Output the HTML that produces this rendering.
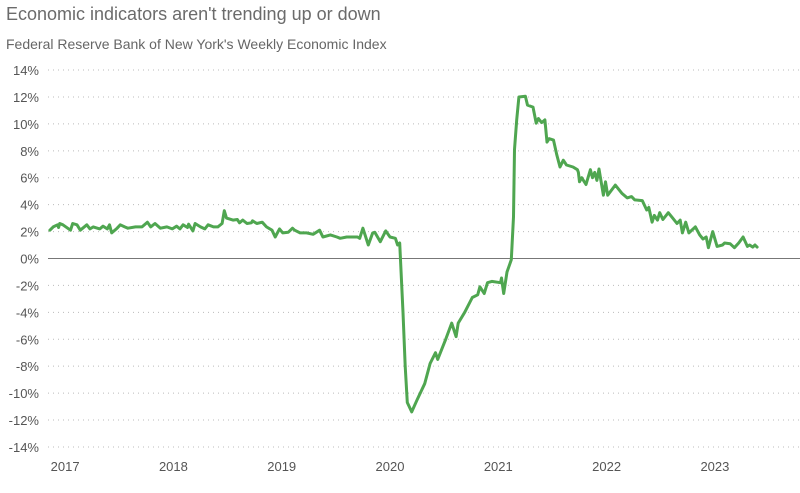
<!DOCTYPE html>
<html><head><meta charset="utf-8"><style>
html,body{margin:0;padding:0;background:#fff;width:800px;height:493px;overflow:hidden;font-family:"Liberation Sans",sans-serif}
#title{position:absolute;left:6px;top:4px;font-size:18px;color:#6b6b6b}
#sub{position:absolute;left:6px;top:36px;font-size:14px;color:#666}
svg{position:absolute;left:0;top:0}
</style></head><body>
<div id="title">Economic indicators aren't trending up or down</div>
<div id="sub">Federal Reserve Bank of New York's Weekly Economic Index</div>
<svg id="chart" width="800" height="493"></svg>
<script>
const yTicks=[14,12,10,8,6,4,2,0,-2,-4,-6,-8,-10,-12,-14];
const xTicks=[2017,2018,2019,2020,2021,2022,2023];
const dates=[2016.86,2016.89,2016.93,2016.94,2016.95,2016.98,2017.05,2017.07,2017.11,2017.14,2017.20,2017.23,2017.26,2017.32,2017.35,2017.39,2017.41,2017.43,2017.48,2017.51,2017.55,2017.58,2017.65,2017.71,2017.76,2017.79,2017.83,2017.88,2017.94,2017.99,2018.03,2018.06,2018.09,2018.13,2018.14,2018.18,2018.20,2018.25,2018.29,2018.32,2018.37,2018.41,2018.45,2018.47,2018.49,2018.55,2018.59,2018.61,2018.64,2018.68,2018.72,2018.73,2018.77,2018.82,2018.86,2018.91,2018.94,2018.98,2019.01,2019.06,2019.10,2019.12,2019.17,2019.23,2019.29,2019.35,2019.38,2019.45,2019.51,2019.54,2019.60,2019.70,2019.72,2019.75,2019.80,2019.84,2019.86,2019.91,2019.96,2020.00,2020.05,2020.07,2020.09,2020.12,2020.14,2020.16,2020.20,2020.25,2020.32,2020.37,2020.42,2020.44,2020.51,2020.57,2020.61,2020.63,2020.69,2020.76,2020.81,2020.83,2020.87,2020.90,2020.94,2021.02,2021.03,2021.05,2021.08,2021.12,2021.14,2021.15,2021.17,2021.19,2021.25,2021.27,2021.32,2021.35,2021.37,2021.40,2021.43,2021.45,2021.47,2021.51,2021.54,2021.57,2021.60,2021.63,2021.69,2021.73,2021.74,2021.75,2021.77,2021.81,2021.85,2021.87,2021.89,2021.91,2021.93,2021.97,2021.99,2022.01,2022.08,2022.14,2022.19,2022.23,2022.26,2022.33,2022.37,2022.39,2022.42,2022.44,2022.47,2022.49,2022.52,2022.57,2022.61,2022.65,2022.68,2022.70,2022.73,2022.76,2022.82,2022.86,2022.89,2022.92,2022.94,2022.98,2023.02,2023.07,2023.09,2023.14,2023.18,2023.22,2023.26,2023.30,2023.32,2023.35,2023.37,2023.39];
const values=[2.1,2.35,2.5,2.3,2.6,2.5,2.1,2.6,2.5,2.1,2.5,2.2,2.35,2.2,2.4,2.2,2.5,1.9,2.25,2.5,2.35,2.25,2.35,2.35,2.7,2.35,2.6,2.25,2.35,2.2,2.4,2.2,2.5,2.3,2.55,2.05,2.6,2.35,2.2,2.5,2.35,2.35,2.6,3.55,3.0,2.85,2.9,2.65,2.85,2.6,2.65,2.8,2.6,2.7,2.35,2.1,1.6,2.2,1.9,1.95,2.25,2.1,1.9,1.9,1.8,2.1,1.6,1.75,1.6,1.5,1.6,1.6,1.5,2.25,1.0,1.9,1.95,1.25,2.05,1.6,1.5,1.0,1.15,-4.0,-8.0,-10.7,-11.4,-10.5,-9.3,-7.8,-7.0,-7.5,-6.1,-4.8,-5.8,-4.8,-4.0,-2.9,-2.7,-2.1,-2.6,-1.8,-1.7,-1.8,-1.45,-2.6,-1.0,-0.1,3.1,8.1,10.3,12.0,12.05,11.4,11.25,10.05,10.4,10.1,10.3,8.65,8.9,8.8,7.7,6.8,7.3,6.95,6.8,6.6,6.4,5.7,6.0,5.5,6.6,6.0,6.4,5.8,6.65,4.7,5.7,4.7,5.45,4.85,4.5,4.6,4.35,4.3,3.6,3.8,2.7,3.2,2.85,3.4,2.9,3.4,3.0,2.6,2.85,1.9,2.7,1.9,2.35,1.75,1.45,1.6,0.8,2.0,0.9,1.0,1.15,1.1,0.8,1.15,1.6,0.9,1.0,0.85,1.0,0.85];
const NS="http://www.w3.org/2000/svg";
const svg=document.getElementById('chart');
const xS=d=>390+(d-2020)*108.3;
const yS=v=>258.5-v*13.46;
function mk(t,a){const e=document.createElementNS(NS,t);for(const k in a)e.setAttribute(k,a[k]);svg.appendChild(e);return e;}
yTicks.forEach(v=>{
  const l=mk('line',{x1:48,x2:800,y1:yS(v),y2:yS(v),stroke:v===0?'#777':'#bbb','stroke-width':1,'stroke-dasharray':v===0?'none':'1 4'});
  
  
  const t=mk('text',{x:39,y:yS(v)+5,'text-anchor':'end','font-size':13,fill:'#555','font-family':'Liberation Sans, sans-serif'});
  t.textContent=v+'%';
  
  
});
xTicks.forEach(y=>{
  const t=mk('text',{x:xS(y),y:471,'text-anchor':'middle','font-size':13,fill:'#555','font-family':'Liberation Sans, sans-serif'});
  t.textContent=y;
  
  
});
const p=mk('path',{d:dates.map((d,i)=>(i?'L':'M')+xS(d).toFixed(1)+','+yS(values[i]).toFixed(1)).join(''),fill:'none',stroke:'#4fa650','stroke-width':3,'stroke-linejoin':'round','stroke-linecap':'round'});


</script>
</body></html>
